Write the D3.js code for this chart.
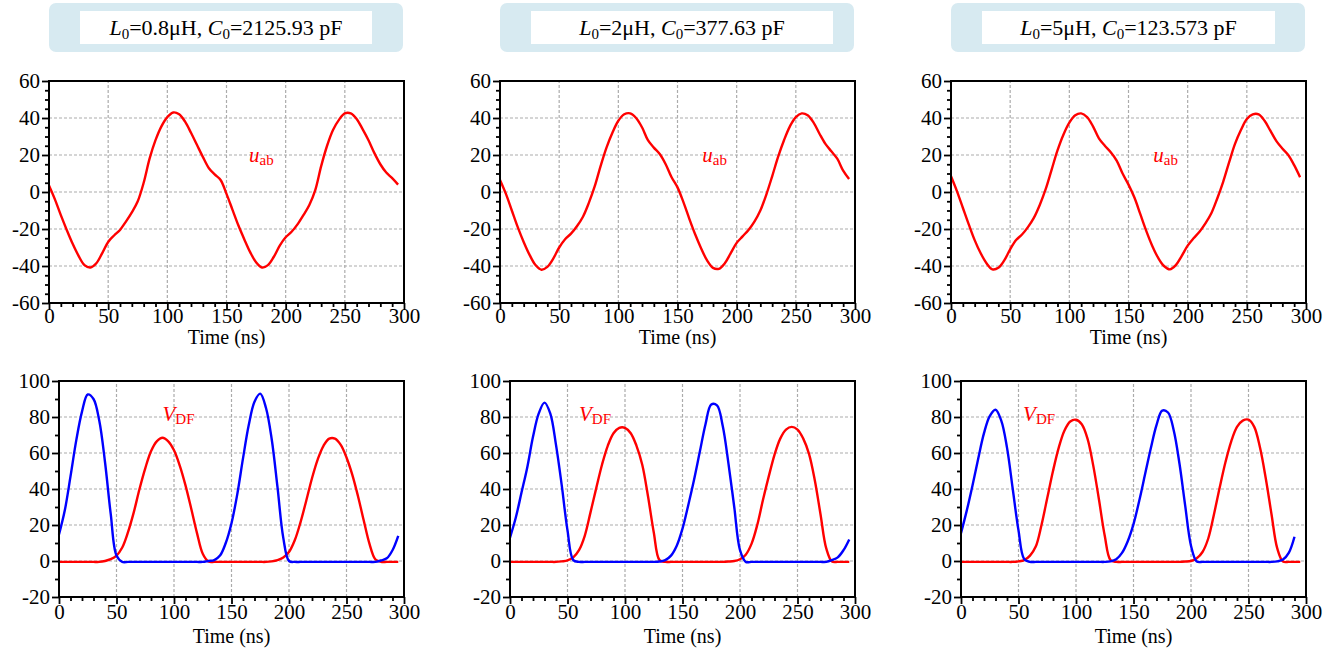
<!DOCTYPE html>
<html>
<head>
<meta charset="utf-8">
<script src="https://cdn.jsdelivr.net/npm/d3@7"></script>
<style>
  body { margin: 0; background: #fff; }
  svg { display: block; font-family: "Liberation Serif", "Times New Roman", serif; }
  svg text { font-family: "Liberation Serif", "Times New Roman", serif; }
</style>
</head>
<body>
<svg width="1337" height="655"></svg>
<script>
// time grid (ns), shared by every trace
const time = [0,5,10,15,20,25,30,35,40,45,50,55,60,65,70,75,80,85,90,95,
  100,105,110,115,120,125,130,135,140,145,150,155,160,165,170,175,180,185,190,195,
  200,205,210,215,220,225,230,235,240,245,250,255,260,265,270,275,280,285,290,295];

// u_ab traces (V), one per L0/C0 case
const uab1 = [3.5,-4,-12.5,-20.5,-28,-34.5,-39.5,-40.8,-38.5,-33,-27,-23.5,-20.5,-16,-11,-5,5,18,28,35.5,
  40.5,43,42,38,32,25.5,19,13,9.5,6.5,-1,-9.5,-18,-25.5,-32.5,-38,-40.8,-39.5,-35,-29,
  -24.5,-21.5,-17.5,-12.5,-7,1,14,25,33.5,39,42.5,42.5,39.5,34,28,21,15,10.5,7.5,4];
const uab2 = [6.5,-1,-10,-19,-27,-34,-39.5,-42,-40.5,-36,-30,-25.5,-22.5,-18.5,-13.5,-6,3,14,24,32,
  38.5,42,42.5,40,35,28,24,20.5,15,8,2.5,-5.5,-14.5,-23,-30.5,-37,-41,-41.5,-38.5,-33,
  -27.5,-24,-20.5,-16,-10,-1.5,8.5,19,28,35.5,40.5,42.5,41.5,37.5,31.5,26,22,18,11.5,7];
const uab3 = [8.5,0.5,-8.5,-17.5,-26,-33,-38.5,-41.8,-41,-37,-31,-26,-23,-19,-14,-7,1.5,12,22.5,31,
  37.5,41.5,42.5,40.5,35.5,29,25,21.5,17,10,4,-3,-12,-21,-29,-35.5,-40,-41.8,-39.5,-34.5,
  -29,-25,-21.5,-17,-11.5,-3.5,5.5,16,26,33.5,39.5,42,42,38.5,33,27.5,23.5,20,14.5,8];

// V_DF traces (V): red and blue switch voltages
const red1 = [-0.5,-0.5,-0.5,-0.5,-0.5,-0.5,-0.5,-0.5,0,1,3,7.5,16,27,40,51.5,61,66.5,68.5,66.5,
  61.5,53,42,29,15.5,4,-0.3,-0.5,-0.5,-0.5,-0.5,-0.5,-0.5,-0.5,-0.5,-0.5,-0.5,-0.2,0.5,2,
  5,11.5,21.5,33.5,46,56.5,64,68,68,64.5,57.5,48,36,22.5,9.5,1,-0.5,-0.5,-0.5,-0.5];
const blue1 = [14.7,28,47,67,83,92.5,90,78,55,26,3,-0.5,-0.5,-0.5,-0.5,-0.5,-0.5,-0.5,-0.5,-0.5,
  -0.5,-0.5,-0.5,-0.5,-0.5,-0.5,0,0.5,3,10,21,37,57,75.5,88.5,93,85,67.5,41,13,
  0,-0.5,-0.5,-0.5,-0.5,-0.5,-0.5,-0.5,-0.5,-0.5,-0.5,-0.5,-0.5,-0.5,-0.5,-0.5,0.3,1.5,6,14];
const red2 = [-0.5,-0.5,-0.5,-0.5,-0.5,-0.5,-0.5,-0.5,-0.5,-0.2,0.3,2,6,14,27,40.5,53.5,64,71,74,
  74,71,64,53.5,36,16,0.5,-0.5,-0.5,-0.5,-0.5,-0.5,-0.5,-0.5,-0.5,-0.5,-0.5,-0.5,-0.3,0,
  1,3.5,9.5,20,34,47,59,68,73,74.5,73,68,59.5,45,26,7,-0.3,-0.5,-0.5,-0.5];
const blue2 = [13,24,38,52,69,82,88,82,64.5,42,17,0.5,-0.5,-0.5,-0.5,-0.5,-0.5,-0.5,-0.5,-0.5,
  -0.5,-0.5,-0.5,-0.5,-0.5,-0.5,-0.3,0.5,3,8.5,18,31,45,60.5,76,87,86.5,75,54,30,
  6,-0.5,-0.5,-0.5,-0.5,-0.5,-0.5,-0.5,-0.5,-0.5,-0.5,-0.5,-0.5,-0.5,-0.5,-0.5,0.5,2,6,12];
const red3 = [-0.5,-0.5,-0.5,-0.5,-0.5,-0.5,-0.5,-0.5,-0.5,-0.5,-0.2,0.5,3,8,20,35,50,63,72.5,77.5,
  78.5,76,68,53,34,14,0.5,-0.5,-0.5,-0.5,-0.5,-0.5,-0.5,-0.5,-0.5,-0.5,-0.5,-0.5,-0.5,-0.3,
  0,1.5,5,12.5,26,41,55,66.5,74.5,78,78.5,74.5,63,46,26,7,-0.3,-0.5,-0.5,-0.5];
const blue3 = [15.5,28,42,57,71,80.5,84,78,63,40,17,1,-0.5,-0.5,-0.5,-0.5,-0.5,-0.5,-0.5,-0.5,
  -0.5,-0.5,-0.5,-0.5,-0.5,-0.5,-0.2,1,4.5,11,20.5,33.5,48,62.5,75.5,83.5,82.5,72.5,54,30.5,
  8.5,-0.3,-0.5,-0.5,-0.5,-0.5,-0.5,-0.5,-0.5,-0.5,-0.5,-0.5,-0.5,-0.5,-0.5,-0.2,0.8,4.5,13.5];

// panel titles
const lValues = ["0.8", "2", "5"];
const cValues = ["2125.93", "377.63", "123.573"];

// tick labels
const xTicks = [0, 50, 100, 150, 200, 250, 300];
const uTicks = [-60, -40, -20, 0, 20, 40, 60];
const vTicks = [-20, 0, 20, 40, 60, 80, 100];

const uabSets = [uab1, uab2, uab3];
const redSets = [red1, red2, red3];
const blueSets = [blue1, blue2, blue3];

// where the series names sit, in data units
const uLabelAt = [[169, 16], [171, 16], [171, 16]];
const vLabelAt = [[90, 78], [60, 78], [54, 78]];

const FONT = '"Liberation Serif", "Times New Roman", serif';
const svg = d3.select('svg');
const colStep = 451;
const innerBox = [[80, 292], [531, 302], [982, 293]];

function frame(g, x, y, yTicks, yMinor, xLabelGap, tickGap) {
  const [x0, x1] = x.range();
  const [y0, y1] = y.range();

  // dashed grid
  g.append('g').selectAll('line')
    .data(xTicks.slice(1, -1)).enter().append('line')
    .attr('x1', d => x(d)).attr('x2', d => x(d))
    .attr('y1', y0).attr('y2', y1)
    .attr('stroke', '#ababab').attr('stroke-width', 1.2).attr('stroke-dasharray', '3,2');
  g.append('g').selectAll('line')
    .data(yTicks.slice(1, -1)).enter().append('line')
    .attr('x1', x0).attr('x2', x1)
    .attr('y1', d => y(d)).attr('y2', d => y(d))
    .attr('stroke', '#ababab').attr('stroke-width', 1.2).attr('stroke-dasharray', '3,2');

  // minor ticks
  const xMinor = d3.range(10, 300, 10).filter(d => d % 50 !== 0);
  g.append('g').attr('transform', `translate(0,${y0})`)
    .call(d3.axisBottom(x).tickValues(xMinor).tickSize(4).tickFormat(''))
    .call(a => a.select('.domain').remove())
    .selectAll('line').attr('stroke-width', 1.8);
  g.append('g').attr('transform', `translate(${x0},0)`)
    .call(d3.axisLeft(y).tickValues(yMinor).tickSize(4).tickFormat(''))
    .call(a => a.select('.domain').remove())
    .selectAll('line').attr('stroke-width', 1.8);

  // major ticks
  const ax = g.append('g').attr('transform', `translate(0,${y0})`)
    .call(d3.axisBottom(x).tickValues(xTicks).tickSize(7).tickPadding(tickGap).tickFormat(d => String(d)));
  const ay = g.append('g').attr('transform', `translate(${x0},0)`)
    .call(d3.axisLeft(y).tickValues(yTicks).tickSize(7).tickPadding(2).tickFormat(d => String(d)));
  [ax, ay].forEach(a => {
    a.attr('font-family', null).style('font-family', FONT).attr('font-size', 21);
    a.select('.domain').remove();
    a.selectAll('line').attr('stroke-width', 1.8);
    a.selectAll('text').style('font-family', FONT).attr('font-size', 21).attr('fill', '#000');
  });

  g.append('text')
    .attr('x', (x0 + x1) / 2).attr('y', y0 + xLabelGap)
    .attr('text-anchor', 'middle').attr('font-size', 20)
    .text('Time (ns)');
}

function box(g, x, y) {
  const [x0, x1] = x.range();
  const [y0, y1] = y.range();
  g.append('rect')
    .attr('x', x0).attr('y', y1).attr('width', x1 - x0).attr('height', y0 - y1)
    .attr('fill', 'none').attr('stroke', '#000').attr('stroke-width', 2);
}

function seriesLabel(g, x, y, at, main, sub) {
  const t = g.append('text')
    .attr('x', x(at[0])).attr('y', y(at[1]))
    .attr('fill', '#ff0000').attr('font-size', 21);
  t.append('tspan').attr('font-style', 'italic').text(main);
  t.append('tspan').attr('font-size', 15).attr('dy', 3).text(sub);
}

const curve = d3.curveCatmullRom.alpha(0.5);

[0, 1, 2].forEach(c => {
  const dx = c * colStep;

  // title box
  const tg = svg.append('g');
  tg.append('rect').attr('x', 49 + dx).attr('y', 3).attr('width', 354).attr('height', 49)
    .attr('rx', 7).attr('fill', '#d7eaf1');
  tg.append('rect').attr('x', innerBox[c][0]).attr('y', 11).attr('width', innerBox[c][1]).attr('height', 33)
    .attr('fill', '#fff');
  const tt = tg.append('text')
    .attr('x', innerBox[c][0] + innerBox[c][1] / 2).attr('y', 35)
    .attr('text-anchor', 'middle').attr('font-size', 22);
  tt.append('tspan').attr('font-style', 'italic').text('L');
  tt.append('tspan').attr('font-size', 15).attr('dy', 4).text('0');
  tt.append('tspan').attr('dy', -4).text('=' + lValues[c] + 'μH, ');
  tt.append('tspan').attr('font-style', 'italic').text('C');
  tt.append('tspan').attr('font-size', 15).attr('dy', 4).text('0');
  tt.append('tspan').attr('dy', -4).text('=' + cValues[c] + ' pF');

  // u_ab panel
  const xu = d3.scaleLinear().domain([0, 300]).range([49 + dx, 404 + dx]);
  const yu = d3.scaleLinear().domain([-60, 60]).range([303, 81]);
  const gu = svg.append('g');
  frame(gu, xu, yu, uTicks, d3.range(-55, 60, 5).filter(d => d % 20 !== 0), 41, -2);
  const lineU = d3.line().x((d, i) => xu(time[i])).y(d => yu(d)).curve(curve);
  gu.append('path').attr('d', lineU(uabSets[c]))
    .attr('fill', 'none').attr('stroke', '#ff0000').attr('stroke-width', 2.4);
  seriesLabel(gu, xu, yu, uLabelAt[c], 'u', 'ab');
  box(gu, xu, yu);

  // V_DF panel
  const xv = d3.scaleLinear().domain([0, 300]).range([59 + dx, 404 + dx]);
  const yv = d3.scaleLinear().domain([-20, 100]).range([597, 381]);
  const gv = svg.append('g');
  frame(gv, xv, yv, vTicks, d3.range(-10, 100, 10).filter(d => d % 20 !== 0), 46, 0);
  const lineV = d3.line().x((d, i) => xv(time[i])).y(d => yv(d)).curve(curve);
  gv.append('path').attr('d', lineV(redSets[c]))
    .attr('fill', 'none').attr('stroke', '#ff0000').attr('stroke-width', 2.4);
  gv.append('path').attr('d', lineV(blueSets[c]))
    .attr('fill', 'none').attr('stroke', '#0000ff').attr('stroke-width', 2.4);
  seriesLabel(gv, xv, yv, vLabelAt[c], 'V', 'DF');
  box(gv, xv, yv);
});
</script>
</body>
</html>
